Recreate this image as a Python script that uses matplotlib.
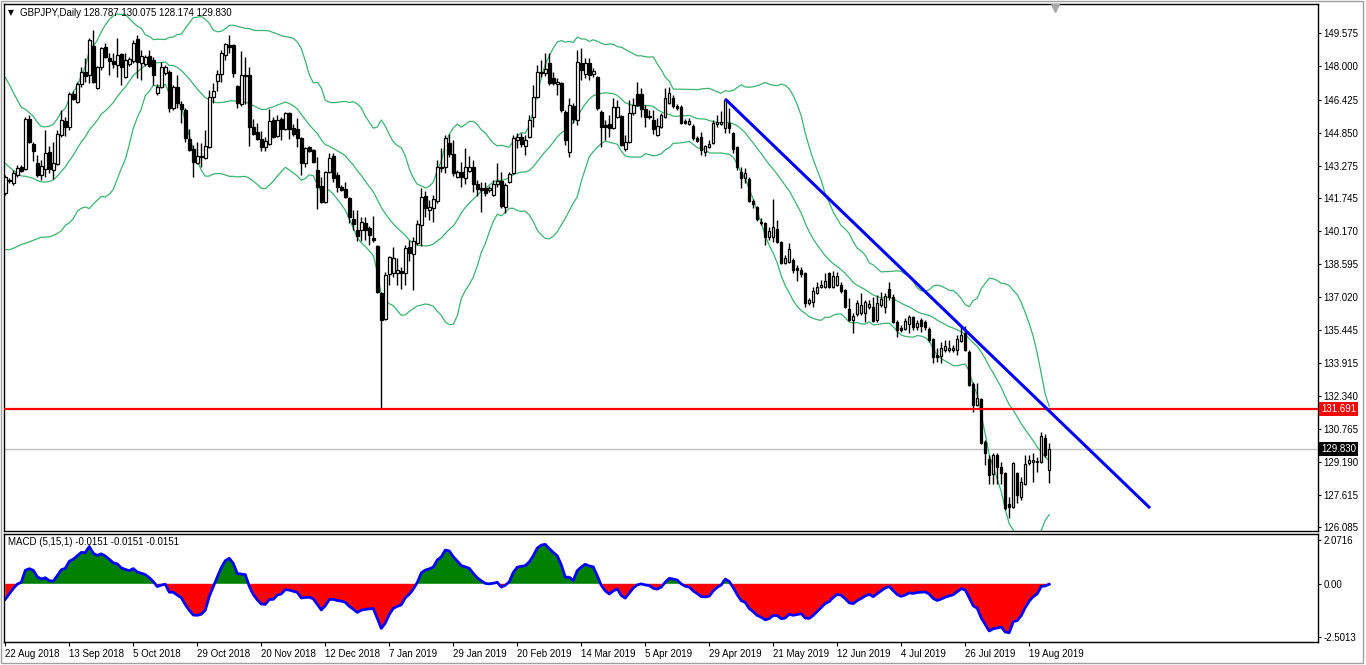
import numpy as np
import pandas as pd
import matplotlib
matplotlib.use("Agg")
import matplotlib.pyplot as plt
from matplotlib.transforms import blended_transform_factory
from matplotlib.patches import Rectangle

plt.rcParams['font.family'] = ['Liberation Sans', 'DejaVu Sans']

# ---------------- data ----------------
symbol = "GBPJPY"
timeframe = "Daily"
start_date = "2018-08-22"
end_date = "2019-08-26"
holidays = ["2018-12-25", "2019-01-01"]

# closes before the first visible bar (indicator warm-up)
pre_close = [145.9, 146.1, 145.8, 145.6, 145.9, 145.3, 145.0, 144.9, 144.6, 144.0,
             142.6, 141.9, 141.2, 141.0, 140.8, 140.9, 141.2, 140.6, 141.6]

opens = [
 141.98, 142.60, 142.46, 142.84, 143.22, 143.12, 145.50, 144.31, 143.41, 142.84,
 143.12, 143.93, 143.08, 143.36, 144.74, 145.41, 145.12, 146.69, 146.31, 147.17,
 147.74, 147.59, 148.97, 146.98, 147.97, 148.93, 148.40, 148.26, 148.07, 148.59,
 147.50, 148.12, 148.26, 149.31, 148.16, 148.12, 148.50, 148.31, 146.74, 147.02,
 147.69, 147.74, 146.03, 147.02, 146.22, 145.93, 144.55, 144.08, 143.41, 143.74,
 143.65, 144.17, 146.55, 147.33, 147.64, 148.55, 149.02, 149.02, 147.07, 146.22,
 147.57, 147.59, 145.12, 144.88, 144.55, 144.17, 144.31, 145.45, 144.69, 145.50,
 145.03, 145.79, 145.07, 145.03, 144.60, 143.41, 144.17, 144.03, 143.08, 142.32,
 141.56, 142.98, 143.74, 142.84, 142.27, 142.17, 141.75, 140.75, 140.22, 140.22,
 140.56, 140.32, 139.84, 139.46, 137.23, 135.99, 138.13, 138.18, 138.18, 138.27,
 138.18, 139.42, 139.08, 139.61, 140.46, 141.84, 141.17, 141.27, 141.60, 143.17,
 143.22, 144.36, 143.84, 142.74, 142.98, 142.70, 143.03, 143.22, 142.41, 142.22,
 142.22, 142.13, 141.89, 142.41, 142.55, 141.32, 142.51, 142.93, 144.50, 144.65,
 144.22, 144.65, 145.60, 146.55, 147.69, 147.69, 148.16, 147.45, 147.17, 147.21,
 145.83, 143.93, 146.12, 145.45, 148.16, 147.64, 148.16, 147.64, 147.50, 145.83,
 145.22, 145.26, 145.07, 145.60, 145.64, 144.08, 144.41, 145.79, 146.69, 146.69,
 145.98, 145.64, 145.45, 144.74, 145.12, 145.60, 146.26, 146.50, 146.12, 146.07,
 145.41, 145.26, 145.17, 144.60, 144.65, 143.93, 144.17, 144.36, 145.26, 145.26,
 145.07, 145.31, 144.84, 144.17, 142.98, 142.70, 142.65, 141.60, 141.32, 140.60,
 140.56, 139.89, 139.89, 140.27, 139.65, 138.65, 138.70, 138.80, 138.42, 138.32,
 138.18, 136.75, 136.80, 137.23, 137.51, 137.51, 138.18, 137.51, 137.61, 137.61,
 137.37, 136.47, 135.94, 136.23, 136.28, 136.28, 136.56, 136.56, 135.94, 136.66,
 136.56, 137.42, 137.04, 135.85, 135.56, 135.52, 135.75, 136.09, 135.61, 135.94,
 135.85, 135.52, 135.04, 134.28, 134.23, 134.52, 134.52, 134.52, 134.52, 134.95,
 135.33, 134.42, 132.90, 131.90, 132.19, 130.15, 129.34, 128.62, 129.53, 128.96,
 128.67, 127.20, 127.05, 128.67, 127.53, 128.15, 129.15, 129.19, 129.24, 129.19,
 130.34, 128.787]

highs = [
 142.84, 142.70, 143.08, 143.31, 143.31, 145.60, 145.69, 144.41, 143.79, 143.55,
 144.98, 144.22, 144.41, 144.98, 145.93, 145.60, 146.79, 146.83, 147.26, 147.97,
 148.40, 149.35, 149.73, 148.02, 148.93, 149.12, 148.64, 148.64, 149.35, 148.64,
 148.64, 148.45, 149.26, 149.50, 148.78, 148.55, 148.78, 148.45, 147.17, 148.21,
 148.07, 147.83, 147.12, 147.59, 146.36, 146.03, 145.03, 144.27, 144.41, 144.36,
 144.98, 146.88, 147.21, 147.83, 148.78, 149.12, 149.50, 149.07, 147.12, 148.74,
 148.45, 147.97, 145.50, 145.31, 144.93, 144.65, 145.98, 145.60, 145.69, 145.60,
 145.83, 145.83, 145.26, 145.55, 144.65, 144.17, 144.22, 144.08, 143.70, 142.74,
 143.03, 143.89, 143.89, 142.98, 142.36, 142.51, 141.79, 141.17, 141.17, 140.84,
 140.84, 140.41, 140.89, 139.51, 137.28, 138.23, 138.99, 139.42, 138.89, 138.46,
 139.51, 139.75, 139.89, 140.70, 142.22, 142.08, 141.65, 141.89, 143.55, 144.12,
 144.74, 144.79, 144.50, 143.08, 143.46, 144.12, 143.74, 143.55, 142.60, 142.51,
 142.51, 142.32, 142.60, 143.41, 142.98, 142.46, 142.98, 144.74, 144.84, 144.84,
 144.74, 145.69, 147.12, 148.07, 148.31, 148.64, 148.64, 147.74, 147.45, 147.26,
 145.93, 146.50, 146.26, 148.78, 148.88, 148.40, 148.40, 147.93, 147.55, 145.93,
 145.45, 145.69, 146.50, 146.41, 145.69, 144.74, 146.41, 146.50, 147.26, 146.98,
 146.17, 145.93, 145.93, 145.55, 145.79, 146.98, 147.02, 146.64, 146.22, 146.17,
 145.50, 145.55, 145.26, 144.69, 144.88, 144.27, 144.50, 145.45, 145.69, 145.88,
 146.50, 146.03, 144.88, 144.22, 143.22, 143.17, 142.74, 141.70, 141.37, 140.79,
 140.60, 140.37, 141.70, 140.70, 139.70, 139.03, 139.61, 138.89, 138.56, 138.46,
 138.23, 136.99, 137.51, 137.75, 137.85, 138.18, 138.23, 138.27, 138.23, 137.75,
 137.42, 136.99, 136.28, 136.90, 137.23, 136.90, 136.90, 137.04, 137.13, 137.28,
 137.23, 137.75, 137.18, 135.94, 135.71, 136.04, 136.18, 136.13, 135.94, 136.04,
 135.94, 135.61, 135.09, 134.61, 134.90, 134.99, 134.99, 134.76, 135.23, 135.61,
 135.66, 134.52, 133.00, 132.95, 132.24, 130.24, 129.53, 129.62, 129.62, 129.19,
 128.72, 127.53, 129.19, 128.72, 128.48, 129.53, 129.53, 129.62, 129.44, 130.62,
 130.52, 130.075]

lows = [
 141.89, 142.46, 142.36, 142.74, 142.98, 143.08, 144.36, 143.50, 142.74, 142.60,
 142.74, 142.93, 142.65, 143.31, 144.65, 144.69, 144.98, 146.41, 146.26, 147.02,
 147.26, 147.21, 147.21, 146.93, 147.83, 148.40, 147.59, 147.93, 147.50, 147.12,
 147.45, 148.02, 148.16, 147.45, 147.36, 148.02, 147.97, 147.12, 146.64, 146.98,
 147.59, 145.83, 145.93, 146.03, 145.31, 144.41, 143.98, 142.74, 143.36, 143.22,
 143.60, 144.12, 146.26, 146.83, 147.26, 148.31, 148.64, 147.50, 146.03, 146.12,
 146.22, 144.22, 144.74, 144.50, 143.98, 143.98, 144.27, 144.60, 144.65, 144.50,
 144.98, 144.55, 144.69, 144.17, 142.84, 143.22, 143.93, 143.41, 141.22, 141.51,
 141.51, 142.93, 142.51, 142.03, 142.08, 141.75, 140.56, 140.22, 139.70, 139.70,
 139.75, 139.51, 139.65, 137.23, 131.691, 135.94, 137.61, 137.99, 137.61, 137.42,
 137.61, 138.75, 137.37, 139.51, 139.46, 140.84, 140.70, 140.60, 141.51, 142.98,
 142.93, 143.70, 142.79, 142.70, 142.27, 142.41, 142.98, 142.03, 141.84, 141.08,
 141.84, 142.03, 141.84, 142.27, 141.27, 141.03, 142.46, 142.89, 144.12, 144.17,
 143.79, 144.60, 145.12, 146.50, 147.50, 147.55, 147.12, 147.12, 146.64, 145.83,
 144.27, 143.70, 145.31, 145.22, 147.36, 147.45, 147.36, 147.50, 145.93, 144.17,
 144.50, 144.65, 145.03, 145.55, 144.22, 143.98, 144.36, 145.69, 146.12, 145.60,
 145.12, 145.50, 144.79, 144.69, 145.07, 145.55, 146.22, 146.03, 145.93, 145.26,
 145.26, 145.22, 144.50, 144.41, 143.79, 143.74, 144.12, 144.31, 145.12, 145.22,
 144.84, 144.84, 143.89, 143.08, 142.22, 142.46, 141.56, 141.27, 140.65, 140.46,
 139.51, 139.75, 139.65, 139.61, 138.61, 138.61, 138.65, 138.18, 137.80, 137.99,
 136.56, 136.66, 136.56, 137.18, 137.47, 137.47, 137.47, 137.47, 137.56, 137.23,
 136.51, 135.90, 135.33, 136.13, 136.18, 135.85, 136.47, 135.85, 135.85, 136.56,
 136.28, 136.90, 135.80, 135.14, 135.37, 135.47, 135.33, 135.47, 135.47, 135.37,
 135.47, 134.90, 133.90, 133.95, 133.90, 134.42, 134.42, 134.42, 134.28, 134.90,
 134.47, 132.81, 131.57, 131.86, 130.05, 129.05, 128.15, 128.15, 128.15, 128.15,
 126.91, 126.53, 127.01, 127.24, 127.39, 128.10, 129.05, 128.24, 128.72, 129.15,
 129.44, 128.174]

closes = [
 142.74, 142.55, 142.93, 143.17, 143.03, 145.50, 144.41, 143.98, 142.84, 143.27,
 143.89, 143.12, 143.41, 144.79, 145.45, 145.12, 146.69, 146.45, 147.17, 147.74,
 147.55, 149.26, 147.26, 147.97, 148.88, 148.45, 148.26, 148.12, 148.55, 147.97,
 148.31, 148.36, 149.12, 148.21, 148.50, 148.45, 148.02, 147.59, 147.02, 147.97,
 147.97, 146.03, 147.02, 146.26, 145.98, 144.60, 144.03, 143.46, 143.74, 143.70,
 144.22, 146.55, 146.83, 147.64, 148.64, 149.07, 148.93, 147.69, 146.26, 147.59,
 147.61, 145.12, 144.79, 144.55, 144.17, 144.46, 145.41, 144.65, 145.45, 145.03,
 145.79, 145.03, 144.79, 144.60, 143.41, 144.12, 143.98, 143.46, 142.27, 141.56,
 142.98, 143.65, 142.70, 142.27, 142.13, 141.79, 140.84, 140.51, 139.94, 140.60,
 140.22, 139.99, 139.75, 137.28, 135.94, 138.08, 138.94, 138.89, 138.32, 138.18,
 139.37, 139.13, 139.70, 140.51, 141.79, 141.27, 141.32, 141.70, 143.22, 143.22,
 144.60, 143.84, 142.93, 142.98, 142.74, 143.22, 143.22, 142.41, 142.17, 142.13,
 141.98, 142.22, 142.41, 142.55, 141.37, 142.36, 142.89, 144.60, 144.65, 144.31,
 144.50, 145.45, 146.55, 147.74, 147.74, 147.88, 147.21, 147.21, 147.26, 145.93,
 144.50, 146.17, 145.50, 148.21, 147.83, 148.16, 147.59, 147.78, 146.03, 145.12,
 145.12, 145.07, 146.07, 146.07, 144.27, 144.41, 145.79, 146.17, 146.17, 145.98,
 145.60, 145.60, 145.03, 145.17, 145.69, 146.50, 146.74, 146.12, 146.03, 145.31,
 145.31, 145.41, 144.60, 144.46, 144.03, 144.22, 144.31, 145.31, 145.36, 145.36,
 146.41, 145.07, 144.08, 143.22, 142.70, 142.93, 141.60, 141.46, 140.75, 140.56,
 139.89, 140.18, 140.37, 139.65, 138.65, 138.89, 139.32, 138.32, 138.32, 138.13,
 136.75, 136.90, 137.32, 137.51, 137.61, 137.80, 137.51, 138.04, 138.04, 137.32,
 136.56, 135.94, 136.13, 136.75, 136.66, 136.80, 136.71, 135.90, 136.75, 136.94,
 137.09, 137.04, 135.85, 135.47, 135.47, 135.90, 136.09, 135.61, 135.80, 135.66,
 135.61, 134.99, 134.19, 134.19, 134.61, 134.71, 134.61, 134.61, 135.04, 135.23,
 134.52, 132.85, 131.90, 132.24, 130.10, 129.62, 128.58, 129.53, 128.96, 128.67,
 127.01, 127.05, 129.15, 127.63, 128.24, 129.10, 129.29, 129.29, 129.19, 130.43,
 129.53, 129.830]

price_ticks = [149.575, 148.000, 146.425, 144.850, 143.275, 141.745, 140.170,
               138.595, 137.020, 135.445, 133.915, 132.340, 130.765, 129.190,
               127.615, 126.085]
support_level = 131.691
trend_bars = [180, 286.2]
trend_prices = [146.45, 127.00]
macd_ticks = [2.0716, 0.0, -2.5013]
macd_tick_labels = ["2.0716", "0.00", "-2.5013"]
macd_params = (5, 15, 1)
macd_last = -0.0151
bb_period, bb_dev = 20, 2.0
label_every = 16

# ---------------- computations ----------------
n = len(closes)
dates = pd.bdate_range(start_date, end_date)
dates = dates[~dates.isin(pd.to_datetime(holidays))]
xs = np.arange(n)

allc = pd.Series(pre_close + closes)
mid = allc.rolling(bb_period).mean()
sd = allc.rolling(bb_period).std(ddof=0)
k0 = len(pre_close)
bb_mid = mid.values[k0:]
bb_up = (mid + bb_dev * sd).values[k0:]
bb_lo = (mid - bb_dev * sd).values[k0:]
ema_f = allc.ewm(span=macd_params[0], adjust=False).mean()
ema_s = allc.ewm(span=macd_params[1], adjust=False).mean()
macd = (ema_f - ema_s).values[k0:]

o = np.array(opens); h = np.array(highs); l = np.array(lows); c = np.array(closes)

# ---------------- figure ----------------
W, H = 1366, 665
fig = plt.figure(figsize=(W / 100, H / 100), dpi=100)
fig.patch.set_facecolor('white')

def rect(l_, t_, r_, b_):
    return [l_ / W, 1 - b_ / H, (r_ - l_) / W, (b_ - t_) / H]

ax = fig.add_axes(rect(4, 4, 1318, 531))
axm = fig.add_axes(rect(4, 534, 1318, 642), sharex=ax)

x_left = -0.33
x_right = 328.2
ax.set_xlim(x_left, x_right)
ax.set_ylim(125.91, 150.97)
axm.set_ylim(-2.752, 2.355)

for a in (ax, axm):
    for s in a.spines.values():
        s.set_color('black')
        s.set_linewidth(1.0)

FS = 7.0
# candles
ax.vlines(xs, l, h, color='black', lw=1.0, zorder=2)
body_bottom = np.minimum(o, c)
body_h = np.maximum(np.abs(c - o), 0.02)
faces = ['white' if cc >= oo else 'black' for oo, cc in zip(o, c)]
ax.bar(xs, body_h, bottom=body_bottom, width=0.62, color=faces,
       edgecolor='black', linewidth=0.9, zorder=3)

# Bollinger
bb_col = '#3CB371'
for band in (bb_up, bb_mid, bb_lo):
    ax.plot(xs, band, color=bb_col, lw=0.9, zorder=1)

# lines
ax.axhline(support_level, color='#FF0000', lw=1.6, zorder=4)
ax.axhline(closes[-1], color='#C0C0C0', lw=1.0, zorder=0.5)
ax.plot(trend_bars, trend_prices, color='#0000FF', lw=2.2, zorder=5,
        solid_capstyle='butt')

# price axis
ax.yaxis.tick_right()
ax.set_yticks(price_ticks)
ax.set_yticklabels([f"{p:.3f}" for p in price_ticks])
ax.tick_params(axis='y', direction='out', length=2.2, width=0.8, pad=1.5,
               labelsize=FS, colors='black')
ax.tick_params(axis='x', bottom=False, labelbottom=False)

tr = blended_transform_factory(ax.transAxes, ax.transData)
ax.text(1.0022, support_level, f"{support_level:.3f}", transform=tr, ha='left',
        va='center', fontsize=FS, color='white',
        bbox=dict(boxstyle='square,pad=0.2', fc='#FF0000', ec='none'), zorder=10,
        clip_on=False)
ax.text(1.0022, closes[-1], f"{closes[-1]:.3f}", transform=tr, ha='left',
        va='center', fontsize=FS, color='white',
        bbox=dict(boxstyle='square,pad=0.2', fc='black', ec='none'), zorder=10,
        clip_on=False)

# chart shift marker
trs = blended_transform_factory(ax.transData, ax.transAxes)
ax.plot([262.4], [0.992], marker='v', color='#A8A8A8', ms=6, transform=trs,
        clip_on=False, zorder=6)

# header
fig.text(8 / W, 1 - 13 / H, '\u25BC', fontsize=5.5, va='center', ha='left',
         family=['DejaVu Sans'])
fig.text(20 / W, 1 - 13 / H,
         f"{symbol},{timeframe} {o[-1]:.3f} {h[-1]:.3f} {l[-1]:.3f} {c[-1]:.3f}",
         fontsize=FS, va='center', ha='left')

# MACD pane
axm.fill_between(xs, macd, 0, where=macd >= 0, color='#008000', lw=0,
                 interpolate=True)
axm.fill_between(xs, macd, 0, where=macd <= 0, color='#FF0000', lw=0,
                 interpolate=True)
axm.plot(xs, macd, color='#0000FF', lw=2.0)
axm.yaxis.tick_right()
axm.set_yticks(macd_ticks)
axm.set_yticklabels(macd_tick_labels)
axm.tick_params(axis='y', direction='out', length=2.2, width=0.8, pad=1.5,
                labelsize=FS)
fig.text(8 / W, 1 - 542 / H,
         f"MACD ({macd_params[0]},{macd_params[1]},{macd_params[2]}) "
         f"{macd_last:.4f} {macd_last:.4f} {macd_last:.4f}",
         fontsize=FS, va='center', ha='left')

tick_idx = list(range(0, n, label_every))
axm.set_xticks(tick_idx)
axm.set_xticklabels([f"{dates[i].day} {dates[i].strftime('%b %Y')}" for i in tick_idx])
for lab in axm.get_xticklabels():
    lab.set_ha('left')
axm.tick_params(axis='x', direction='out', length=3, width=0.8, pad=1.8,
                labelsize=FS)

# outer frame
fig.add_artist(Rectangle((0.5 / W, 2 / H), 1362.5 / W, 662.5 / H,
                         transform=fig.transFigure, fill=False,
                         ec='#A0A0A0', lw=1.0))

fig.savefig('out.png', dpi=100, facecolor='white')
